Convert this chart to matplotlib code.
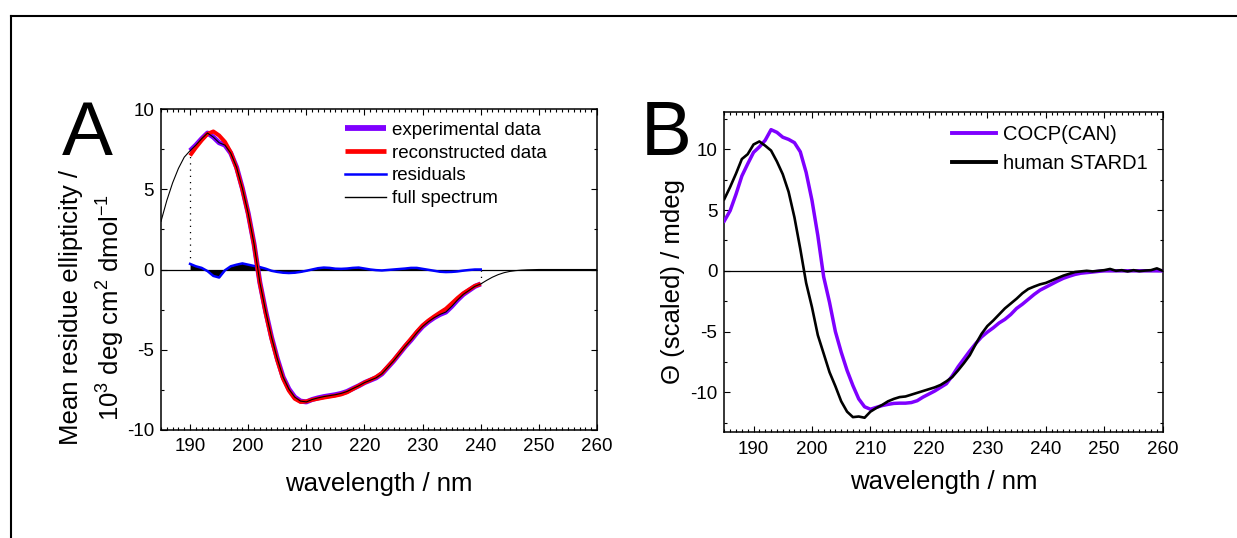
import matplotlib
matplotlib.use('Agg')
import numpy as np
import matplotlib.pyplot as plt
from matplotlib.ticker import MultipleLocator
from matplotlib.lines import Line2D

plt.rcParams['font.family'] = ['Liberation Sans', 'DejaVu Sans']
plt.rcParams['mathtext.fontset'] = 'custom'
plt.rcParams['mathtext.rm'] = 'Liberation Sans'
plt.rcParams['mathtext.default'] = 'regular'
plt.rcParams['axes.unicode_minus'] = False

# ---------------- Data: panel A ----------------
wl_a = list(range(190, 241))
experimental = [7.40, 7.75, 8.15, 8.50, 8.25, 7.90, 7.75, 7.25, 6.37, 5.05,
                3.50, 1.60, -0.80, -2.60, -4.20, -5.55, -6.70, -7.45, -7.95, -8.20,
                -8.25, -8.10, -8.00, -7.92, -7.86, -7.80, -7.72, -7.60, -7.42, -7.25,
                -7.05, -6.90, -6.75, -6.50, -6.10, -5.70, -5.25, -4.80, -4.40, -3.95,
                -3.55, -3.25, -3.00, -2.80, -2.65, -2.30, -1.90, -1.55, -1.30, -1.05,
                -0.90]
reconstructed = [7.10, 7.60, 8.05, 8.45, 8.60, 8.35, 7.95, 7.30, 6.30, 5.00,
                 3.45, 1.55, -0.85, -2.70, -4.30, -5.65, -6.80, -7.55, -8.05, -8.25,
                 -8.22, -8.12, -8.05, -7.98, -7.92, -7.86, -7.78, -7.65, -7.45, -7.25,
                 -7.05, -6.88, -6.70, -6.45, -6.05, -5.65, -5.20, -4.75, -4.32, -3.88,
                 -3.48, -3.18, -2.92, -2.68, -2.45, -2.12, -1.78, -1.48, -1.25, -1.02,
                 -0.90]
residuals = [0.35, 0.20, 0.10, -0.10, -0.40, -0.50, -0.05, 0.20, 0.30, 0.38,
             0.30, 0.22, 0.15, 0.05, -0.08, -0.15, -0.20, -0.22, -0.20, -0.15,
             -0.08, 0.00, 0.08, 0.12, 0.10, 0.05, 0.04, 0.06, 0.10, 0.12,
             0.06, 0.00, -0.04, -0.06, -0.03, 0.00, 0.03, 0.06, 0.10, 0.10,
             0.04, -0.02, -0.08, -0.14, -0.16, -0.15, -0.12, -0.07, -0.03, 0.00,
             0.00]
full_left_wl = [185, 186, 187, 188, 189]
full_left = [3.0, 4.3, 5.4, 6.3, 7.0]
full_right_wl = list(range(241, 261))
full_right = [-0.68, -0.48, -0.32, -0.20, -0.12, -0.07, -0.04, -0.02, -0.01, 0.0,
              0.0, 0.0, 0.0, 0.0, 0.0, 0.0, 0.0, 0.0, 0.0, 0.0]

# ---------------- Data: panel B ----------------
wl_b = list(range(185, 261))
cocp = [4.1, 4.95, 6.3, 7.8, 8.8, 9.75, 10.2, 10.75, 11.62, 11.4,
        11.0, 10.82, 10.55, 9.8, 8.1, 5.8, 2.9, -0.5, -2.6, -5.0,
        -6.7, -8.2, -9.45, -10.55, -11.2, -11.4, -11.25, -11.1, -11.0, -10.92,
        -10.9, -10.9, -10.85, -10.7, -10.4, -10.15, -9.9, -9.6, -9.3, -8.65,
        -7.9, -7.25, -6.6, -6.0, -5.45, -5.05, -4.7, -4.3, -4.0, -3.6,
        -3.1, -2.75, -2.35, -1.95, -1.6, -1.35, -1.1, -0.85, -0.62, -0.45,
        -0.3, -0.2, -0.15, -0.1, -0.05, 0.0, 0.0, 0.0, 0.0, 0.0,
        0.0, 0.0, 0.0, 0.0, 0.0, 0.0]
stard1 = [5.9, 6.9, 8.0, 9.2, 9.6, 10.4, 10.65, 10.3, 9.9, 9.0,
          7.95, 6.5, 4.4, 1.8, -1.0, -3.0, -5.3, -6.82, -8.35, -9.5,
          -10.75, -11.6, -12.05, -12.0, -12.1, -11.6, -11.3, -11.05, -10.75, -10.55,
          -10.4, -10.35, -10.2, -10.05, -9.9, -9.75, -9.6, -9.4, -9.1, -8.75,
          -8.2, -7.6, -6.95, -6.05, -5.2, -4.55, -4.1, -3.6, -3.1, -2.7,
          -2.3, -1.85, -1.5, -1.3, -1.12, -1.0, -0.8, -0.6, -0.4, -0.25,
          -0.1, -0.05, 0.0, -0.05, 0.0, 0.05, 0.15, 0.0, 0.05, -0.05,
          0.05, -0.03, 0.02, 0.05, 0.2, 0.0]

PURPLE = '#7f00ff'

W, H = 1237, 538
fig = plt.figure(figsize=(W / 100, H / 100), dpi=100)


def fx(px):
    return px / W


def fy(py):
    return 1 - py / H


# outer frame (top and left edges visible)
fig.add_artist(Line2D([fx(10.7), fx(10.7)], [fy(15.5), 0], lw=1.5, color='black',
                      transform=fig.transFigure))
fig.add_artist(Line2D([fx(10.7), 1], [fy(15.5), fy(15.5)], lw=1.5, color='black',
                      transform=fig.transFigure))

axA = fig.add_axes([fx(161), fy(430), (597 - 161) / W, (430 - 109) / H])
axB = fig.add_axes([fx(724.3), fy(432.3), (1162.7 - 724.3) / W, (432.3 - 111.7) / H])


def style(ax, ylim):
    ax.set_xlim(185, 260)
    ax.set_ylim(*ylim)
    ax.xaxis.set_major_locator(MultipleLocator(10))
    ax.xaxis.set_minor_locator(MultipleLocator(1))
    ax.yaxis.set_major_locator(MultipleLocator(5))
    ax.yaxis.set_minor_locator(MultipleLocator(2.5))
    ax.tick_params(which='both', direction='in', top=True, right=True,
                   width=0.8, labelsize=13.5)
    ax.tick_params(which='major', length=4.5)
    ax.tick_params(which='minor', length=2.2)
    ax.tick_params(axis='x', pad=6)
    ax.tick_params(axis='y', pad=5)
    for s in ax.spines.values():
        s.set_linewidth(1.1)
    ax.axhline(0, color='black', lw=0.9, zorder=1)


style(axA, (-10, 10))
style(axB, (-13.3, 13.1))

# ---- panel A curves ----
full_wl = full_left_wl + wl_a + full_right_wl
full_val = full_left + experimental + full_right
axA.fill_between(wl_a, residuals, 0, color='black', lw=0, zorder=2)
axA.plot(wl_a, experimental, color=PURPLE, lw=3.6, solid_capstyle='butt',
         label='experimental data', zorder=3)
axA.plot(wl_a, reconstructed, color='#ff0000', lw=2.9, solid_capstyle='butt',
         label='reconstructed data', zorder=4)
axA.plot(wl_a, residuals, color='#0000ff', lw=1.8, label='residuals', zorder=3)
axA.plot(full_wl, full_val, color='black', lw=0.8, label='full spectrum', zorder=5)
# dotted connectors at the ends of the fitted range
axA.plot([wl_a[0], wl_a[0]], [residuals[0], experimental[0]], color='black',
         lw=0.9, ls=(0, (1, 4)), zorder=2)
axA.plot([wl_a[-1], wl_a[-1]], [residuals[-1], experimental[-1]], color='black',
         lw=0.9, ls=(0, (1, 4)), zorder=2)

legA = axA.legend(loc='upper left', bbox_to_anchor=(fx(345), fy(121.8)),
                  bbox_transform=fig.transFigure, frameon=False, fontsize=13.5,
                  handlelength=2.2, handletextpad=0.3, labelspacing=0.3,
                  borderpad=0, borderaxespad=0)
for h, w in zip(legA.get_lines(), [4.2, 3.4, 1.8, 1.0]):
    h.set_linewidth(w)

# ---- panel B curves ----
axB.plot(wl_b, cocp, color=PURPLE, lw=2.5, label='COCP(CAN)', zorder=3)
axB.plot(wl_b, stard1, color='black', lw=1.9, label='human STARD1', zorder=4)
legB = axB.legend(loc='upper left', bbox_to_anchor=(fx(951.7), fy(124.7)),
                  bbox_transform=fig.transFigure, frameon=False, fontsize=14.5,
                  handlelength=2.2, handletextpad=0.33, labelspacing=0.5,
                  borderpad=0, borderaxespad=0)
for h in legB.get_lines():
    h.set_linewidth(2.8)

# ---- labels ----
axA.set_xlabel('wavelength / nm', fontsize=18.5, va='baseline')
axA.xaxis.set_label_coords(0.5, -(490.5 - 430) / 321)
axB.set_xlabel('wavelength / nm', fontsize=18.5, va='baseline')
axB.xaxis.set_label_coords(0.5, -(488.5 - 432.3) / 320.6)

axA.set_ylabel('Mean residue ellipticity /', fontsize=18.5, va='baseline',
               ha='center', rotation_mode='anchor')
axA.yaxis.set_label_coords((77.6 - 161) / 436, (430 - 307.5) / 321)
axA.text((120 - 161) / 436, (430 - 307.5) / 321,
         r'10$^3$ deg cm$^2$ dmol$^{-1}$', fontsize=18.5, rotation=90,
         rotation_mode='anchor', ha='center', va='baseline',
         transform=axA.transAxes)

axB.set_ylabel('\u0398 (scaled) / mdeg', fontsize=18.5, va='baseline',
               ha='center', rotation_mode='anchor')
axB.yaxis.set_label_coords((680 - 724.3) / 438.4, (432.3 - 281.6) / 320.6)

fig.text(fx(62), fy(155), 'A', fontsize=55, ha='left', va='baseline')
fig.text(fx(641), fy(155), 'B', fontsize=55, ha='left', va='baseline')

fig.savefig('out.png', dpi=100)
